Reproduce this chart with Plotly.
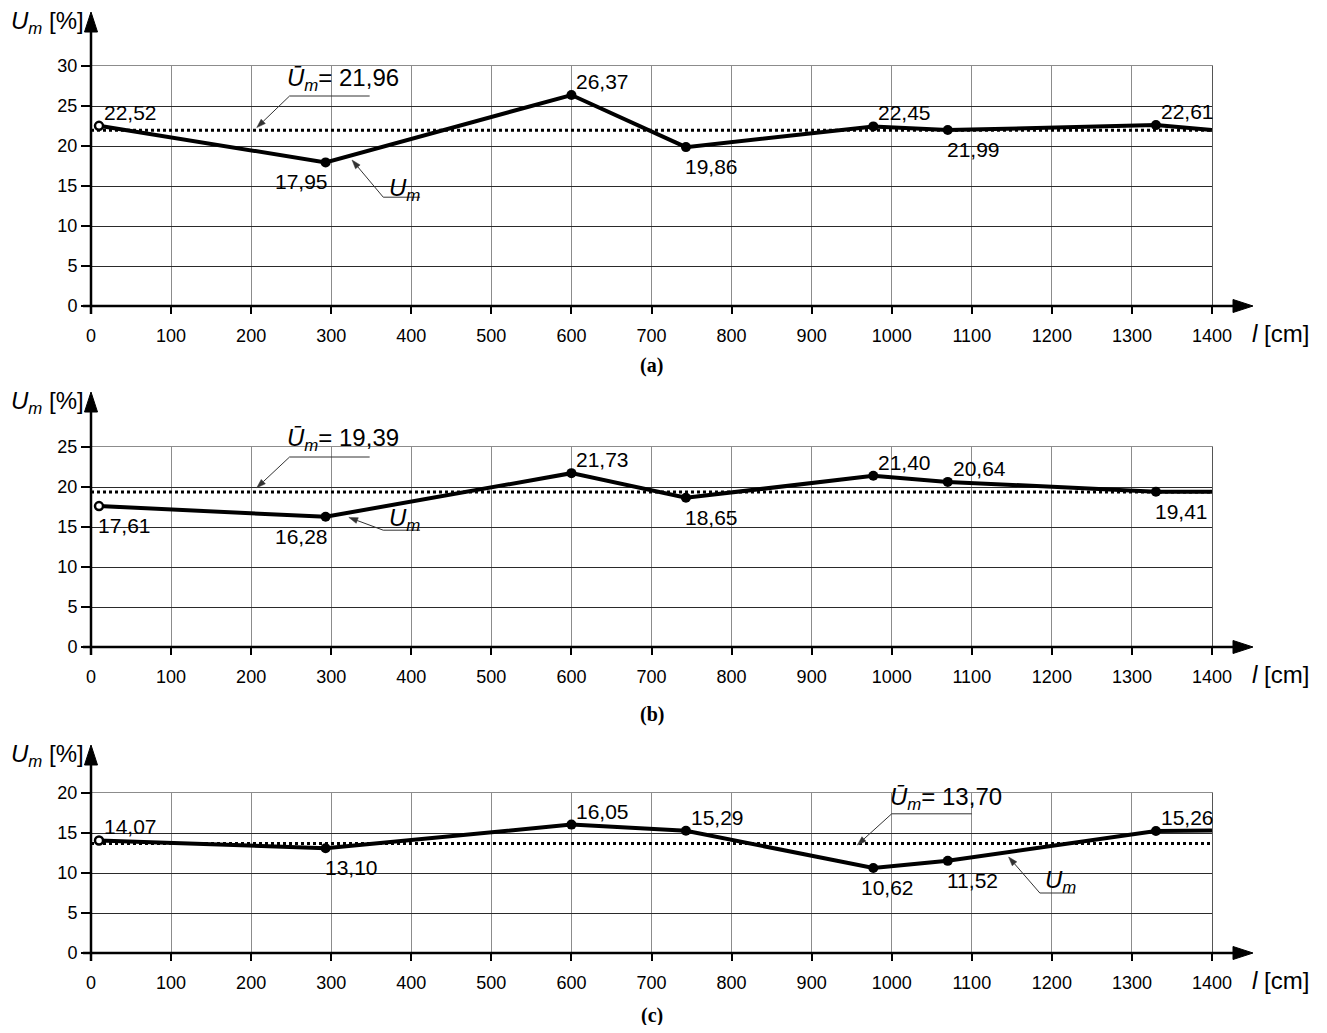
import math
import plotly.graph_objects as go

# ---------------- data ----------------
positions = [10, 293, 600, 743, 977, 1070, 1330]   # l [cm]
x_end = 1400

values_a = [22.52, 17.95, 26.37, 19.86, 22.45, 21.99, 22.61]
end_a = 22.0
mean_a = 21.96

values_b = [17.61, 16.28, 21.73, 18.65, 21.40, 20.64, 19.41]
end_b = 19.4
mean_b = 19.39

values_c = [14.07, 13.10, 16.05, 15.29, 10.62, 11.52, 15.26]
end_c = 15.3
mean_c = 13.70

x_ticks = list(range(0, 1401, 100))
y_max = [30, 25, 20]
captions = ["(a)", "(b)", "(c)"]

# ---------------- layout geometry (page pixels) ----------------
PAGE_W, PAGE_H = 1327, 1033
BODY = 8                      # default page margin around the figure
W, H = PAGE_W - 2 * BODY, PAGE_H - 2 * BODY
X_LEFT, X_RIGHT = 91, 1212
panels_px = [(66, 306), (447, 647), (793, 953)]     # (top, bottom)
arrow_tip_y = [12, 392, 745]
caption_y = [366, 714, 1015]

def PX(x):
    return (x - BODY) / W

def PY(y):
    return 1 - (y - BODY) / H

def d2px(i, x, y):
    top, bot = panels_px[i]
    return X_LEFT + (X_RIGHT - X_LEFT) * x / 1400.0, bot - (bot - top) * y / y_max[i]

def d2p(i, x, y):
    """data coords of panel i -> paper coords"""
    px, py = d2px(i, x, y)
    return PX(px), PY(py)

FONT = "Arial, Liberation Sans, sans-serif"
SERIF = "Times New Roman, Liberation Serif, serif"

# label placement codes (style)
place = [
    ["tr", "bl", "tr", "br", "tr", "br", "tr"],
    ["br", "bl", "tr", "br", "tr", "tr", "br"],
    ["tr", "br", "tr", "tr", "bc", "br", "tr"],
]
# callout geometry in data coordinates (style)
mean_callouts = [
    dict(text_xy=(242, 28.3), ul=(248, 348, 26.25), tip=(207, 22.3)),
    dict(text_xy=(242, 25.9), ul=(248, 348, 23.75), tip=(207, 19.9)),
    dict(text_xy=(995, 19.3), ul=(1000, 1100, 17.4), tip=(957, 13.5)),
]
um_callouts = [
    dict(text_xy=(370, 14.6), ul=(365, 411, 13.6), tip=(326, 18.25)),
    dict(text_xy=(370, 16.0), ul=(365, 411, 14.6), tip=(322, 16.2)),
    dict(text_xy=(1189, 9.0), ul=(1185, 1229, 7.5), tip=(1146, 12.0)),
]

series = [(values_a, end_a, mean_a), (values_b, end_b, mean_b), (values_c, end_c, mean_c)]

fig = go.Figure()
annotations = []
shapes = []

def fmt(v):
    return f"{v:.2f}".replace(".", ",")

def leader(i, tail, tip):
    """thin leader line with small arrowhead, as shapes (paper coords)"""
    tx, ty = d2px(i, *tail)
    hx, hy = d2px(i, *tip)
    L = math.hypot(hx - tx, hy - ty)
    ux, uy = (hx - tx) / L, (hy - ty) / L
    bx, by = hx - 9 * ux, hy - 9 * uy
    nx, ny = -uy, ux
    out = [dict(type="line", xref="paper", yref="paper", x0=PX(tx), y0=PY(ty),
                x1=PX(bx), y1=PY(by), line=dict(color="#333", width=1))]
    out.append(dict(type="path", xref="paper", yref="paper",
                    path=f"M {PX(hx)},{PY(hy)} L {PX(bx + 3 * nx)},{PY(by + 3 * ny)} "
                         f"L {PX(bx - 3 * nx)},{PY(by - 3 * ny)} Z",
                    fillcolor="#333", line=dict(color="#333", width=0.5)))
    return out

for i, (vals, end_v, mean_v) in enumerate(series):
    n = i + 1
    xa = "x" if n == 1 else f"x{n}"
    ya = "y" if n == 1 else f"y{n}"
    top, bot = panels_px[i]

    # mean dotted line
    fig.add_trace(go.Scatter(x=[0, x_end], y=[mean_v, mean_v], mode="lines",
                             line=dict(color="black", width=3, dash="3px,3px"),
                             xaxis=xa, yaxis=ya, showlegend=False, hoverinfo="skip"))
    # main line
    fig.add_trace(go.Scatter(x=positions + [x_end], y=vals + [end_v], mode="lines",
                             line=dict(color="black", width=4),
                             xaxis=xa, yaxis=ya, showlegend=False))
    # markers
    fig.add_trace(go.Scatter(x=positions[1:], y=vals[1:], mode="markers",
                             marker=dict(color="black", size=10),
                             xaxis=xa, yaxis=ya, showlegend=False))
    fig.add_trace(go.Scatter(x=positions[:1], y=vals[:1], mode="markers",
                             marker=dict(color="white", size=8, line=dict(color="black", width=2.5)),
                             xaxis=xa, yaxis=ya, showlegend=False, cliponaxis=False))

    # data labels
    for x, v, code in zip(positions, vals, place[i]):
        if code == "tr":
            kw = dict(xanchor="left", yanchor="bottom", xshift=3, yshift=0)
        elif code == "br":
            kw = dict(xanchor="left", yanchor="top", xshift=-3, yshift=-6)
        elif code == "bl":
            kw = dict(xanchor="right", yanchor="top", xshift=4, yshift=-6)
        else:
            kw = dict(xanchor="center", yanchor="top", xshift=14, yshift=-6)
        annotations.append(dict(x=x, y=v, xref=xa, yref=ya, text=fmt(v), showarrow=False,
                                font=dict(family=FONT, size=21, color="black"), **kw))

    # mean callout
    mc = mean_callouts[i]
    tx, ty = d2p(i, *mc["text_xy"])
    annotations.append(dict(x=tx, y=ty, xref="paper", yref="paper",
                            text="<i>Ū</i><sub><i>m</i></sub>= " + fmt(mean_v),
                            showarrow=False, xanchor="left", yanchor="middle",
                            font=dict(family=FONT, size=24, color="black")))
    x0, x1, yu = mc["ul"]
    shapes.append(dict(type="line", xref=xa, yref=ya, x0=x0, x1=x1, y0=yu, y1=yu,
                       line=dict(color="#333", width=1)))
    shapes.extend(leader(i, (x0, yu), mc["tip"]))

    # U_m callout
    uc = um_callouts[i]
    tx, ty = d2p(i, *uc["text_xy"])
    annotations.append(dict(x=tx, y=ty, xref="paper", yref="paper",
                            text="<i>U</i><sub><i>m</i></sub>",
                            showarrow=False, xanchor="left", yanchor="middle",
                            font=dict(family=FONT, size=24, color="black")))
    x0, x1, yu = uc["ul"]
    shapes.append(dict(type="line", xref=xa, yref=ya, x0=x0, x1=x1, y0=yu, y1=yu,
                       line=dict(color="#333", width=1)))
    shapes.extend(leader(i, (x0, yu), uc["tip"]))

    # axes
    fig.update_layout(**{
        ("xaxis" if n == 1 else f"xaxis{n}"): dict(
            domain=[PX(X_LEFT), PX(X_RIGHT)], range=[0, 1400], tickvals=x_ticks,
            showgrid=True, gridcolor="#8c8c8c", gridwidth=1, zeroline=False,
            showline=True, mirror=True, linecolor="#8c8c8c", linewidth=1,
            ticks="outside", ticklen=7, tickwidth=2, tickcolor="black",
            ticklabelstandoff=6, automargin=False,
            tickfont=dict(family=FONT, size=18, color="black"), anchor=ya),
        ("yaxis" if n == 1 else f"yaxis{n}"): dict(
            domain=[PY(bot), PY(top)], range=[0, y_max[i]], dtick=5, tick0=0,
            showgrid=True, gridcolor="#2a2a2a", gridwidth=1, zeroline=False,
            showline=True, mirror=True, linecolor="#555", linewidth=1,
            ticks="outside", ticklen=9, tickwidth=2, tickcolor="black",
            automargin=False,
            tickfont=dict(family=FONT, size=18, color="black"), anchor=xa),
    })

    # black axis lines with arrowheads (paper coords)
    tip = arrow_tip_y[i]
    shapes.append(dict(type="line", xref="paper", yref="paper", x0=PX(X_LEFT), x1=PX(X_LEFT),
                       y0=PY(bot + 8), y1=PY(tip + 12), line=dict(color="black", width=2.5),
                       layer="above"))
    shapes.append(dict(type="path", xref="paper", yref="paper",
                       path=f"M {PX(X_LEFT)},{PY(tip)} L {PX(X_LEFT - 6.5)},{PY(tip + 20)} "
                            f"L {PX(X_LEFT + 6.5)},{PY(tip + 20)} Z",
                       fillcolor="black", line=dict(color="black", width=1), layer="above"))
    shapes.append(dict(type="line", xref="paper", yref="paper", x0=PX(X_LEFT - 8), x1=PX(1236),
                       y0=PY(bot), y1=PY(bot), line=dict(color="black", width=2.5),
                       layer="above"))
    shapes.append(dict(type="path", xref="paper", yref="paper",
                       path=f"M {PX(1253)},{PY(bot)} L {PX(1233)},{PY(bot - 6.5)} "
                            f"L {PX(1233)},{PY(bot + 6.5)} Z",
                       fillcolor="black", line=dict(color="black", width=1), layer="above"))

    # axis titles
    annotations.append(dict(x=PX(86), y=PY(tip + 10), xref="paper", yref="paper",
                            text="<i>U</i><sub><i>m</i></sub> [%]", showarrow=False,
                            xanchor="right", yanchor="middle",
                            font=dict(family=FONT, size=24, color="black")))
    annotations.append(dict(x=PX(1250), y=PY(bot + 27), xref="paper", yref="paper",
                            text="<i>l</i> [cm]", showarrow=False,
                            xanchor="left", yanchor="middle",
                            font=dict(family=FONT, size=24, color="black")))
    # caption
    annotations.append(dict(x=PX((X_LEFT + X_RIGHT) / 2), y=PY(caption_y[i]), xref="paper",
                            yref="paper", text="<b>" + captions[i] + "</b>", showarrow=False,
                            xanchor="center", yanchor="middle",
                            font=dict(family=SERIF, size=20, color="black")))

fig.update_layout(width=W, height=H, margin=dict(l=0, r=0, t=0, b=0, autoexpand=False),
                  paper_bgcolor="white", plot_bgcolor="white",
                  annotations=annotations, shapes=shapes, showlegend=False)

fig.write_html("out.html")
